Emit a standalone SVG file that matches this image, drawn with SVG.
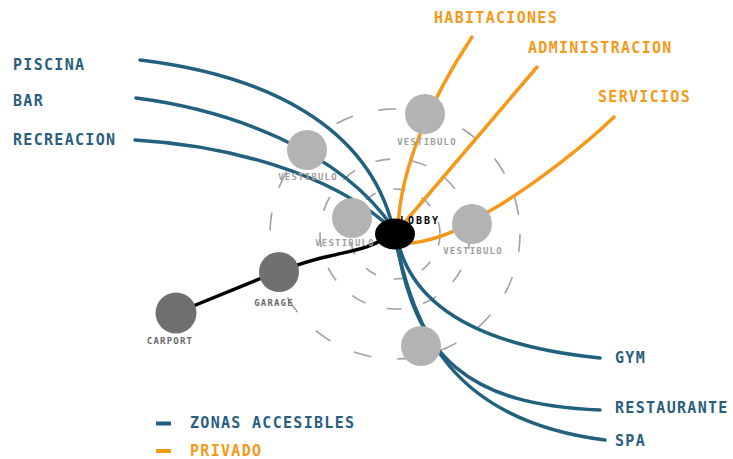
<svg xmlns="http://www.w3.org/2000/svg" width="733" height="459" viewBox="0 0 733 459">
<style>
.ring{fill:none;stroke:#a0a0a0;stroke-width:1.6}
.blue{fill:none;stroke:#22607f;stroke-width:3.5;stroke-linecap:round}
.orange{fill:none;stroke:#f5991a;stroke-width:3.5;stroke-linecap:round}
.black{fill:none;stroke:#000;stroke-width:3.5;stroke-linecap:round}
.big{font-family:"DejaVu Sans Mono",monospace;font-weight:bold;font-size:15px;letter-spacing:1.3px}
.bt{fill:#2a5e7e}
.ot{fill:#f5991a}
.small{font-family:"DejaVu Sans Mono",monospace;font-weight:bold;font-size:9px;letter-spacing:1.2px;text-anchor:middle}
.vest{fill:#b3b3b3}
.vl{fill:#a0a0a0}
.dark{fill:#707070}
.dl{fill:#6a6a6a}
</style>
<rect width="733" height="459" fill="#fff"/>
<g id="rings">
<circle class="ring" cx="395" cy="234" r="125" stroke-dasharray="18 26"/>
<circle class="ring" cx="395" cy="234" r="75" stroke-dasharray="15 22"/>
<circle class="ring" cx="395" cy="234" r="45" stroke-dasharray="12 18"/>
</g>
<g id="connectors">
<path class="blue" d="M140,60 C265,75 368,125 393,228"/>
<path class="blue" d="M136,98 C230,110 340,150 393,228"/>
<path class="blue" d="M135,140 C220,145 330,170 393,230"/>
<path class="blue" d="M397,238 C410,300 470,345 600,358"/>
<path class="blue" d="M396,238 C415,360 470,405 600,410"/>
<path class="blue" d="M395,238 C415,330 450,420 605,440"/>
<path class="orange" d="M398,228 C400,170 430,100 472,37"/>
<path class="orange" d="M405,222 L537,67"/>
<path class="orange" d="M412,243 C450,238 470,222 500,205 C540,180 585,145 614,117"/>
<path class="black" d="M385,238 C370,248 355,250 330,256 C310,260 295,266 279,271"/>
<path class="black" d="M279,271 L176,313"/>
</g>
<g id="vestibulo-top"><circle class="vest" cx="425" cy="114" r="20"/><text class="small vl" x="427" y="145">VESTIBULO</text></g>
<g id="vestibulo-lefttop"><circle class="vest" cx="307" cy="150" r="20"/><text class="small vl" x="308" y="180">VESTIBULO</text></g>
<g id="vestibulo-left"><circle class="vest" cx="352" cy="218" r="20"/><text class="small vl" x="345" y="246">VESTIBULO</text></g>
<g id="vestibulo-right"><circle class="vest" cx="472" cy="224" r="20"/><text class="small vl" x="473" y="254">VESTIBULO</text></g>
<g id="vestibulo-bottom"><circle class="vest" cx="421" cy="346" r="20"/></g>
<g id="lobby"><text x="400" y="224" font-family="DejaVu Sans Mono,monospace" font-weight="bold" font-size="10" letter-spacing="2" fill="#000">LOBBY</text><ellipse cx="395" cy="234" rx="20" ry="15.5" fill="#000"/></g>
<g id="garage"><circle class="dark" cx="279" cy="272" r="20"/><text class="small dl" x="274" y="306">GARAGE</text></g>
<g id="carport"><circle class="dark" cx="176" cy="313" r="20.5"/><text class="small dl" x="170" y="344">CARPORT</text></g>
<g id="labels">
<text class="big bt" x="13" y="70">PISCINA</text>
<text class="big bt" x="13" y="106">BAR</text>
<text class="big bt" x="13" y="145">RECREACION</text>
<text class="big ot" x="434" y="23">HABITACIONES</text>
<text class="big ot" x="528" y="53">ADMINISTRACION</text>
<text class="big ot" x="598" y="102">SERVICIOS</text>
<text class="big bt" x="615" y="363">GYM</text>
<text class="big bt" x="615" y="413">RESTAURANTE</text>
<text class="big bt" x="615" y="446">SPA</text>
</g>
<g id="legend">
<line x1="156" y1="423.5" x2="171" y2="423.5" stroke="#22607f" stroke-width="4"/>
<text class="big bt" x="190" y="428">ZONAS ACCESIBLES</text>
<line x1="156" y1="451" x2="171" y2="451" stroke="#f5991a" stroke-width="4"/>
<text class="big ot" x="190" y="456">PRIVADO</text>
</g>
</svg>
